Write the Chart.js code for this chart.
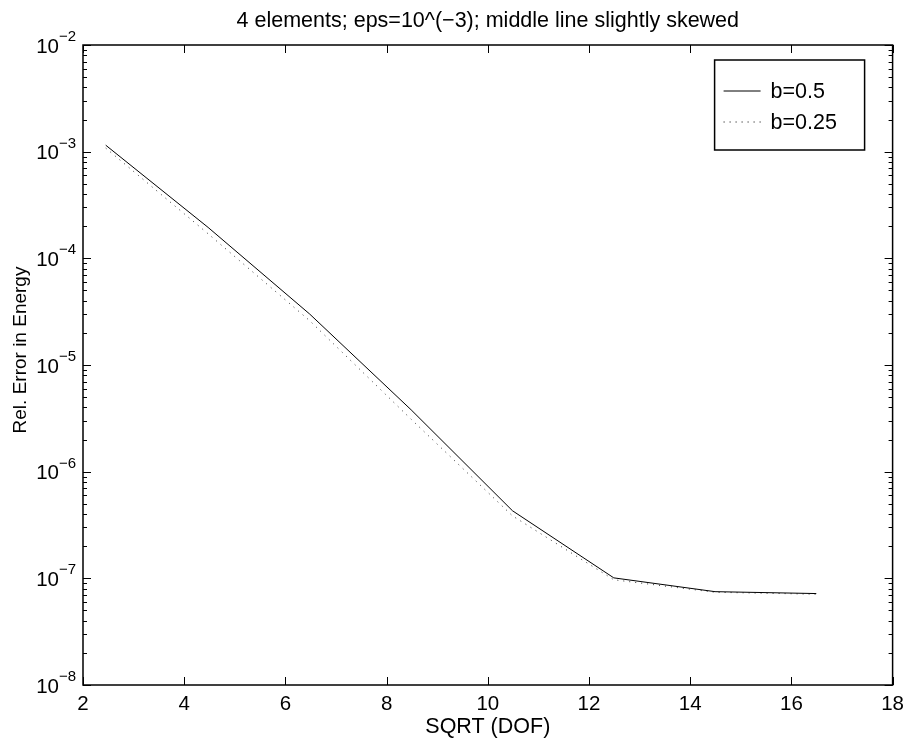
<!DOCTYPE html>
<html>
<head>
<meta charset="utf-8">
<script src="https://cdn.jsdelivr.net/npm/chart.js@4.4.1/dist/chart.umd.min.js"></script>
<style>
  html, body { margin: 0; padding: 0; background: #fff; }
</style>
</head>
<body>
<canvas id="grafico" width="911" height="742"></canvas>
<script>
var sqrtDof = [2.449, 4.472, 6.481, 8.485, 10.488, 12.490, 14.491, 16.492];
var erroB05 = [1.15e-3, 1.95e-4, 3.0e-5, 3.8e-6, 4.3e-7, 1.01e-7, 7.5e-8, 7.2e-8];
var erroB025 = [1.08e-3, 1.70e-4, 2.6e-5, 3.1e-6, 3.85e-7, 9.7e-8, 7.4e-8, 7.1e-8];

var xTicks = [2, 4, 6, 8, 10, 12, 14, 16, 18];
var yDecadas = [-8, -7, -6, -5, -4, -3, -2];
var yTitulo = 'Rel. Error in Energy';

var fonte = '"Liberation Sans", Arial, Helvetica, sans-serif';

function potencia(v) {
    var e = Math.round(Math.log10(v));
    return Math.abs(v / Math.pow(10, e) - 1) < 1e-6 ? e : null;
}

// minor ticks 1..9 em cada decada
var yTicks = [];
yDecadas.forEach(function (e, i) {
    if (i == yDecadas.length - 1) { yTicks.push(Math.pow(10, e)); return; }
    for (var k = 1; k <= 9; k++) yTicks.push(k * Math.pow(10, e));
});

// caixa, ticks para dentro, rotulos 10^n e legenda estilo matlab
var moldura = {
    id: 'moldura',
    afterDraw: function (chart) {
        var ctx = chart.ctx;
        var a = chart.chartArea;
        var sx = chart.scales.x, sy = chart.scales.y;
        ctx.save();
        ctx.strokeStyle = '#000';
        ctx.fillStyle = '#000';
        ctx.lineWidth = 1.5;
        ctx.strokeRect(a.left, a.top, a.right - a.left, a.bottom - a.top);

        ctx.lineWidth = 1;
        ctx.beginPath();
        sx.ticks.forEach(function (t) {
            var px = Math.round(sx.getPixelForValue(t.value)) + 0.5;
            ctx.moveTo(px, a.bottom); ctx.lineTo(px, a.bottom - 8);
            ctx.moveTo(px, a.top); ctx.lineTo(px, a.top + 8);
        });
        sy.ticks.forEach(function (t) {
            var py = Math.round(sy.getPixelForValue(t.value)) + 0.5;
            var len = potencia(t.value) !== null ? 8 : 4;
            ctx.moveTo(a.left, py); ctx.lineTo(a.left + len, py);
            ctx.moveTo(a.right, py); ctx.lineTo(a.right - len, py);
        });
        ctx.stroke();

        // rotulos do eixo y: 10 com expoente
        sy.ticks.forEach(function (t) {
            var e = potencia(t.value);
            if (e === null) return;
            var py = sy.getPixelForValue(t.value);
            ctx.font = '20.5px ' + fonte;
            ctx.textAlign = 'right';
            ctx.textBaseline = 'middle';
            ctx.fillText('10', a.left - 24, py + 2);
            ctx.font = '15px ' + fonte;
            ctx.textAlign = 'left';
            ctx.fillText((e < 0 ? '\u2212' : '') + Math.abs(e), a.left - 24, py - 8);
        });

        // titulo do eixo y
        ctx.save();
        ctx.translate(21, 350);
        ctx.rotate(-Math.PI / 2);
        ctx.font = '19px ' + fonte;
        ctx.textAlign = 'center';
        ctx.textBaseline = 'middle';
        ctx.fillText(yTitulo, 0, 0);
        ctx.restore();

        // legenda
        var bx = a.right - 178, by = a.top + 15, bw = 150, bh = 90;
        ctx.fillStyle = '#fff';
        ctx.fillRect(bx, by, bw, bh);
        ctx.lineWidth = 1.5;
        ctx.strokeRect(bx, by, bw, bh);
        ctx.font = '21.5px ' + fonte;
        ctx.textAlign = 'left';
        ctx.textBaseline = 'middle';
        ctx.fillStyle = '#000';
        chart.data.datasets.forEach(function (ds, i) {
            var ly = by + 31 + i * 31;
            ctx.lineWidth = 1;
            ctx.setLineDash(ds.borderDash || []);
            ctx.beginPath();
            ctx.moveTo(bx + 9, ly); ctx.lineTo(bx + 46, ly);
            ctx.stroke();
            ctx.setLineDash([]);
            ctx.fillText(ds.label, bx + 56, ly + 1);
        });
        ctx.restore();
    }
};

var ctx = document.getElementById('grafico').getContext('2d');
var grafico = new Chart(ctx, {
    type: 'line',
    data: {
        datasets: [{
            label: 'b=0.5',
            data: sqrtDof.map(function (x, i) { return { x: x, y: erroB05[i] }; }),
            borderColor: '#000',
            borderWidth: 1,
            pointRadius: 0,
            fill: false
        }, {
            label: 'b=0.25',
            data: sqrtDof.map(function (x, i) { return { x: x, y: erroB025[i] }; }),
            borderColor: '#333',
            borderWidth: 1,
            borderDash: [1, 5],
            pointRadius: 0,
            fill: false
        }]
    },
    options: {
        responsive: false,
        animation: false,
        layout: { padding: { left: 0, right: 16, top: 0, bottom: 0 } },
        plugins: {
            legend: { display: false },
            tooltip: { enabled: false },
            title: {
                display: true,
                fullSize: false,
                text: '4 elements; eps=10^(\u22123); middle line slightly skewed',
                color: '#000',
                font: { family: fonte, size: 21.5, weight: 'normal', lineHeight: 1.2 },
                padding: { top: 8, bottom: 11.2 }
            }
        },
        scales: {
            x: {
                type: 'linear',
                min: 2,
                max: 18,
                afterBuildTicks: function (s) { s.ticks = xTicks.map(function (v) { return { value: v }; }); },
                afterFit: function (s) { s.height = 57; },
                grid: { display: false, drawTicks: false },
                border: { display: false },
                ticks: { color: '#000', padding: 7, font: { family: fonte, size: 20.5 } },
                title: {
                    display: true,
                    text: 'SQRT (DOF)',
                    color: '#000',
                    font: { family: fonte, size: 21.5 },
                    padding: { top: 0, bottom: 2 }
                }
            },
            y: {
                type: 'logarithmic',
                min: 1e-8,
                max: 1e-2,
                afterBuildTicks: function (s) { s.ticks = yTicks.map(function (v) { return { value: v }; }); },
                afterFit: function (s) { s.width = 83; },
                grid: { display: false, drawTicks: false },
                border: { display: false },
                ticks: { display: false, autoSkip: false },
                title: { display: false, text: yTitulo }
            }
        }
    },
    plugins: [moldura]
});
</script>
</body>
</html>
